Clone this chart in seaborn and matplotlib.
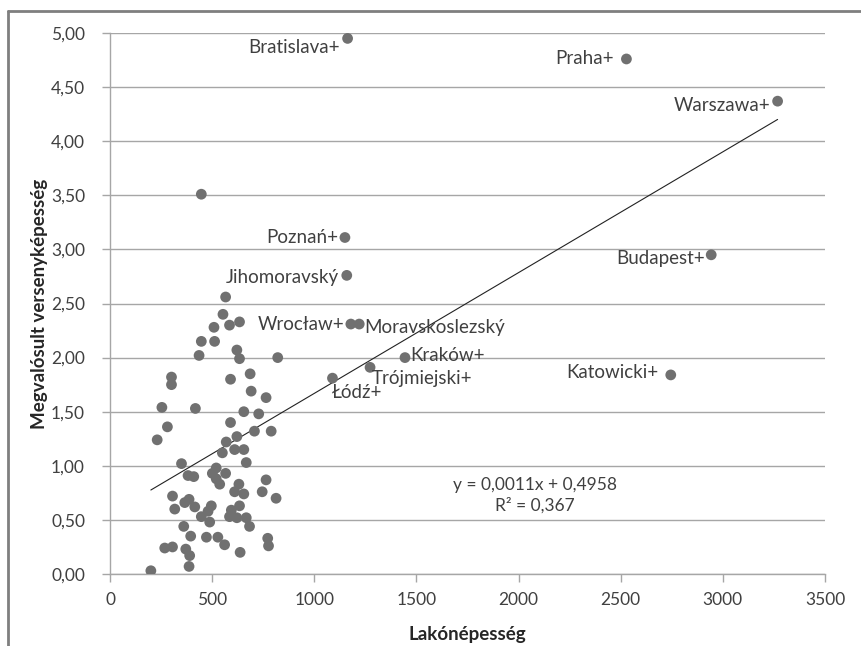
import numpy as np
import pandas as pd
import seaborn as sns
import matplotlib.pyplot as plt
from matplotlib.lines import Line2D

# unlabelled regions (x = Lakónépesség, y = Megvalósult versenyképesség)
other_x = [566, 553, 509, 585, 634, 447, 512, 436, 621, 634, 821, 301, 301, 590,
           686, 691, 764, 254, 418, 655, 728, 281, 231, 590, 707, 789, 621, 569,
           610, 655, 550, 667, 350, 520, 501, 566, 382, 410, 520, 537, 764, 631,
           610, 655, 745, 813, 306, 366, 387, 415, 317, 496, 480, 447, 488, 594,
           634, 585, 621, 667, 683, 361, 395, 472, 528, 561, 772, 776, 268, 306,
           371, 390, 387, 637, 200, 447]
other_y = [2.56, 2.40, 2.28, 2.30, 2.33, 2.15, 2.15, 2.02, 2.07, 1.99, 2.00, 1.82,
           1.75, 1.80, 1.85, 1.69, 1.63, 1.54, 1.53, 1.50, 1.48, 1.36, 1.24, 1.40,
           1.32, 1.32, 1.27, 1.22, 1.15, 1.15, 1.12, 1.03, 1.02, 0.98, 0.93, 0.93,
           0.91, 0.90, 0.88, 0.83, 0.87, 0.83, 0.76, 0.74, 0.76, 0.70, 0.72, 0.66,
           0.69, 0.62, 0.60, 0.63, 0.58, 0.53, 0.48, 0.59, 0.63, 0.53, 0.52, 0.52,
           0.44, 0.44, 0.35, 0.34, 0.34, 0.27, 0.33, 0.26, 0.24, 0.25, 0.23, 0.17,
           0.07, 0.20, 0.03, 3.51]

# labelled regions
names = ["Bratislava+", "Poznań+", "Jihomoravský", "Wrocław+", "Moravskoslezský",
         "Kraków+", "Trójmiejski+", "Łódź+", "Praha+", "Warszawa+", "Budapest+",
         "Katowicki+"]
named_x = [1163, 1150, 1159, 1179, 1220, 1444, 1273, 1089, 2528, 3268, 2943, 2745]
named_y = [4.95, 3.11, 2.76, 2.31, 2.31, 2.00, 1.91, 1.81, 4.76, 4.37, 2.95, 1.84]

df = pd.DataFrame({"x": other_x + named_x, "y": other_y + named_y})

sns.set_theme(style="white")
plt.rcParams["font.family"] = ["Lato", "DejaVu Sans"]

fig = plt.figure(figsize=(8.61, 6.46), dpi=100)
ax = fig.add_axes([110 / 861, 1 - 574 / 646, 715 / 861, 541 / 646])

grid_c = "#a6a6a6"
txt_c = "#404040"
dot_c = "#707070"

sns.scatterplot(data=df, x="x", y="y", ax=ax, color=dot_c, s=60,
                edgecolor="none", zorder=3)
sns.regplot(data=df, x="x", y="y", ax=ax, scatter=False, ci=None,
            truncate=True, line_kws={"color": "#222222", "lw": 0.8, "zorder": 2})

ax.set_xlim(0, 3500)
ax.set_ylim(0, 5)
ax.set_xticks(np.arange(0, 3501, 500))
ax.set_yticks(np.arange(0, 5.01, 0.5))
ax.set_yticklabels([f"{v:.2f}".replace(".", ",") for v in np.arange(0, 5.01, 0.5)])
ax.yaxis.grid(True, color=grid_c, lw=1)
ax.xaxis.grid(False)
for s in ["top", "right"]:
    ax.spines[s].set_visible(False)
for s in ["left", "bottom"]:
    ax.spines[s].set_color(grid_c)
    ax.spines[s].set_linewidth(1)
ax.tick_params(axis="both", which="both", length=6, width=1, color=grid_c,
               labelsize=12.5, labelcolor=txt_c, direction="out")
ax.tick_params(axis="x", bottom=True, pad=7)
ax.tick_params(axis="y", left=True, pad=12)

ax.set_xlabel("Lakónépesség", fontsize=13.5, fontweight="bold", color="#262626",
              labelpad=13)
ax.set_ylabel("Megvalósult versenyképesség", fontsize=13.5, fontweight="bold",
              color="#262626", labelpad=2)

# label offsets in pixels (dx, dy, ha, va)
offsets = {
    "Bratislava+": (-8, -9, "right", "center"),
    "Poznań+": (-7, 0, "right", "center"),
    "Jihomoravský": (-8, -2, "right", "center"),
    "Wrocław+": (-6, 0, "right", "center"),
    "Moravskoslezský": (5, -3, "left", "center"),
    "Kraków+": (5, 2, "left", "center"),
    "Trójmiejski+": (2, -11, "left", "center"),
    "Łódź+": (-1, -14, "left", "center"),
    "Praha+": (-13, 0, "right", "center"),
    "Warszawa+": (-7, -4, "right", "center"),
    "Budapest+": (-6, -4, "right", "center"),
    "Katowicki+": (-12, 2, "right", "center"),
}
for n, x, y in zip(names, named_x, named_y):
    dx, dy, ha, va = offsets[n]
    ax.annotate(n, (x, y), xytext=(dx, dy), textcoords="offset pixels",
                ha=ha, va=va, fontsize=13.5, color=txt_c)

ax.text(0.594, 0.146, "y = 0,0011x + 0,4958\nR² = 0,367", transform=ax.transAxes,
        ha="center", va="center", fontsize=12.5, color=txt_c, linespacing=1.3)

# outer frame (top and left edges only)
fig.add_artist(Line2D([8 / 861, 1], [1 - 11 / 646, 1 - 11 / 646],
                      transform=fig.transFigure, color="#7f7f7f", lw=2))
fig.add_artist(Line2D([8 / 861, 8 / 861], [0, 1 - 11 / 646],
                      transform=fig.transFigure, color="#7f7f7f", lw=2))

fig.savefig("out.png", dpi=100)
